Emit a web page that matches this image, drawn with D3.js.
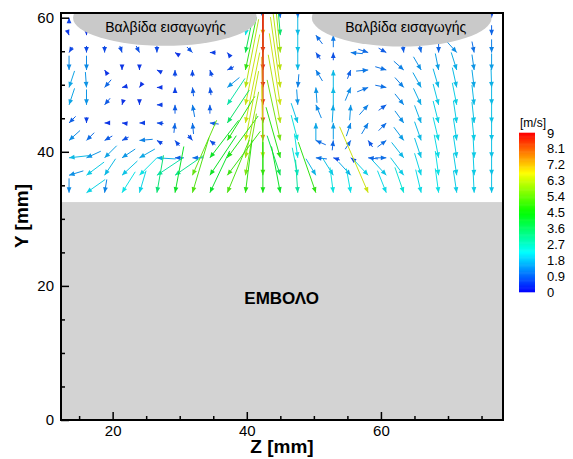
<html>
<body style="margin:0;background:#fff">
<script src="https://d3js.org/d3.v7.min.js"></script>
<svg width="573" height="459"></svg>
<script>
// grid of the PIV field (mm), rows listed top to bottom
var zGrid = [13.5, 16.1, 18.8, 21.4, 24.0, 26.6, 29.3, 31.9, 34.5, 37.1, 39.8, 42.4, 45.0,
             47.6, 50.3, 52.9, 55.5, 58.1, 60.8, 63.4, 66.0, 68.6, 71.3, 73.9, 76.5];
var yGrid = [60.0, 57.4, 54.8, 52.2, 49.6, 47.0, 44.3, 41.7, 39.1, 36.5, 33.9];

// horizontal velocity U (m/s), null = hidden under the valves
var uRows = [
  [0, null, null, null, null, null, null, null, null, null, null, 0.1, 0.1, 0, null, null, null, null, null, null, null, null, null, null, 0],
  [0.15, 0, null, null, null, null, null, null, null, null, -0.4, 0, 0.3, 0, -0.6, 0, null, null, null, null, null, null, null, null, 0],
  [-0.3, 0, 0, 0.2, 0.3, 0, -0.3, 0.5, -0.5, -0.3, -0.8, 0, 0.6, 0, -0.4, 0, -1.1, 0.9, 0.7, 0.1, 0.2, 0, 0.9, 0.2, 0],
  [0, 0, -0.2, 0, 0, -0.4, 0, 0, -0.2, -0.6, -1.0, 0, 0.8, 0, -0.6, 0, 0.3, 1.1, 1.0, 0.9, 0.7, 0.3, 0.5, 0.2, 0],
  [-0.5, 0.1, -0.6, -0.4, -0.2, -0.4, 0, -0.1, -0.1, -1.1, -1.2, 0, 0.9, -0.1, -0.1, 0, 0.5, 1.0, 1.0, 0.8, 0.75, 0.5, 0.4, 0.2, 0.05],
  [-0.5, 0, -0.5, -0.1, 0, -0.5, 0, -0.2, 0, -1.6, -1.3, 0, 1.0, 0.1, -0.5, 0.1, 0.1, 0.8, 0.7, 0.8, 0.7, 0.5, 0.4, 0.2, 0],
  [-0.6, 0, -0.4, -0.4, -0.5, -0.6, 0.1, -0.1, -0.8, -2.0, -1.3, 0, 1.1, 0.6, 0, 0, 0.4, 0.6, 0.7, 0.8, 0.6, 0.5, 0.3, 0.2, 0],
  [-1.0, -0.7, -0.7, -0.6, -1.2, -0.5, -0.4, 0.4, -0.5, -2.5, -1.2, 0.1, 1.2, 0.6, -0.9, 0.1, 0.5, -0.4, 0.8, 0.9, 0.6, 0.5, 0.3, 0.2, 0],
  [-1.8, -1.3, -1.1, -1.2, -1.4, -1.7, -0.8, -1.0, -2.6, -2.8, -1.2, 0.1, 1.3, 0.3, -1.0, -0.6, -0.4, -0.9, 1.0, 1.1, 0.6, 0.4, 0.3, 0.1, 0],
  [-1.3, -1.6, -1.0, -1.4, -1.6, -2.4, -2.6, -2.2, -2.4, -3.0, -1.0, 0, 1.2, 0.5, 0.9, 1.0, 1.1, 1.4, 1.3, 1.2, 0.6, 0.3, 0.3, 0.1, 0],
  [0, -1.7, -0.2, -1.2, -0.6, -0.6, -0.8, -1.5, -1.8, -2.0, -0.6, 0, 0.8, 0.2, 1.6, 0.3, 0.4, 2.6, 0.8, 0.8, 0.5, 0.3, 0.3, 0.1, 0]
];

// vertical velocity V (m/s), positive upwards
var vRows = [
  [0.5, null, null, null, null, null, null, null, null, null, null, -1.0, -0.9, -0.9, null, null, null, null, null, null, null, null, null, null, -0.6],
  [-0.4, -0.35, null, null, null, null, null, null, null, null, -2.2, -7.2, -3.5, -1.8, 0.8, 1.1, null, null, null, null, null, null, null, null, -0.9],
  [-0.5, -0.6, -0.6, -0.6, -0.6, -0.6, 0.2, -0.5, 0, 0.4, -3.8, -8.6, -6.0, -1.9, 0.6, 0.7, 0.1, -0.3, -0.4, -0.8, -0.9, -0.9, -1.0, -1.0, -1.2],
  [-1.3, -1.3, 0.3, -0.4, -0.4, 0.2, 0.6, 0.6, 0.6, -0.3, -4.8, -8.8, -6.3, -1.8, 1.0, 1.8, 0.8, 0.1, -0.3, -0.8, -1.2, -1.5, -1.6, -1.4, -1.5],
  [-1.5, -1.4, -0.7, -0.1, -0.3, 0, 0.5, 0.8, 0.7, -0.9, -6.2, -8.7, -6.4, -1.2, 1.4, 1.8, 1.2, 0.4, -0.2, -0.9, -1.35, -1.7, -1.8, -1.6, -1.7],
  [-1.5, -1.4, -0.6, -0.35, -0.4, 0, 0.8, 1.1, 0.8, -2.4, -6.4, -8.6, -6.5, -1.4, 1.2, 1.6, 1.4, 0.9, 0.5, -1.0, -1.5, -1.9, -2.0, -1.8, -1.8],
  [-0.6, -0.5, 0, 0.05, 0, 0.05, 0.9, 1.0, 0.1, -3.0, -6.4, -8.3, -6.2, -1.8, 1.6, 1.5, 1.2, 1.0, 0.7, -1.1, -1.6, -2.0, -2.0, -1.9, -1.9],
  [-0.9, -0.7, -0.4, -0.3, -0.1, 0.3, 0.5, -0.5, 0.4, -4.0, -6.3, -7.6, -5.5, -2.3, 0.4, 0.9, 0.8, 0.6, 0.6, -1.2, -1.7, -2.1, -2.0, -2.0, -1.9],
  [-0.2, -0.6, -1.1, -0.8, -0.8, 0.1, 0, 0, -3.4, -3.8, -6.0, -6.6, -4.6, -2.2, 0.1, 0.2, 0.3, 0.1, 0, -1.4, -1.8, -2.1, -2.0, -2.0, -1.9],
  [-0.4, -1.2, -1.5, -1.3, -1.6, -1.6, -1.8, -5.0, -3.6, -4.0, -5.6, -5.2, -3.6, -2.5, -1.5, -1.6, -1.2, -1.5, -1.4, -1.6, -2.0, -2.2, -2.0, -2.0, -1.9],
  [-1.3, -1.2, -1.2, -1.9, -2.0, -3.4, -4.2, -5.0, -3.8, -4.8, -4.8, -4.6, -4.2, -3.0, -4.6, -2.3, -2.2, -6.0, -2.0, -2.3, -2.1, -2.2, -2.0, -2.0, -1.9]
];

var zTicks = [20, 40, 60];
var zMinor = [15, 25, 30, 35, 45, 50, 55, 65, 70, 75];
var yTicks = [0, 20, 40, 60];
var yMinor = [5, 10, 15, 25, 30, 35, 45, 50, 55];
var cbTicks = [0, 0.9, 1.8, 2.7, 3.6, 4.5, 5.4, 6.3, 7.2, 8.1, 9];
var pistonTop = 32.5;   // mm
var valveLabel = "Βαλβίδα εισαγωγής";

var svg = d3.select("svg");
var font = "'Liberation Sans', Arial, sans-serif";

var x = d3.scaleLinear().domain([12.3, 78.2]).range([61, 503]);
var y = d3.scaleLinear().domain([0, 60.7]).range([420, 13]);
var color = d3.scaleLinear()
    .domain([0, 2.25, 4.5, 6.75, 9])
    .range(["#0000ff", "#00ffff", "#00ff00", "#ffff00", "#ff0000"])
    .clamp(true);
// arrows look a little duller than the legend
function arrowColor(m) { return d3.interpolateRgb(color(m), "#506070")(0.18); }
var pxPerMs = 11;

svg.append("defs").append("clipPath").attr("id", "plot")
    .append("rect")
    .attr("x", x(12.3)).attr("y", y(60.7))
    .attr("width", x(78.2) - x(12.3)).attr("height", y(0) - y(60.7));

var plot = svg.append("g").attr("clip-path", "url(#plot)");

// piston
plot.append("rect")
    .attr("x", x(12.3)).attr("y", y(pistonTop))
    .attr("width", x(78.2) - x(12.3)).attr("height", y(0) - y(pistonTop))
    .style("fill", "#d3d3d3");

// flatten the vector field
var vecs = [];
yGrid.forEach(function(yy, r) {
    zGrid.forEach(function(zz, k) {
        var u = uRows[r][k], v = vRows[r][k];
        if (u === null || v === null) return;
        vecs.push({z: zz, y: yy, u: u, v: v, m: Math.sqrt(u * u + v * v)});
    });
});

var arrows = plot.selectAll(".vec").data(vecs).enter().append("g").attr("class", "vec");

arrows.append("line")
    .attr("x1", function(d) { return x(d.z) - d.u * pxPerMs; })
    .attr("y1", function(d) { return y(d.y) + d.v * pxPerMs; })
    .attr("x2", function(d) { return x(d.z); })
    .attr("y2", function(d) { return y(d.y); })
    .style("stroke", function(d) { return arrowColor(d.m); })
    .style("stroke-width", 1);

arrows.append("path")
    .attr("d", function(d) {
        var tx = x(d.z), ty = y(d.y);
        var len = d.m * pxPerMs;
        var dx = d.u * pxPerMs / len, dy = -d.v * pxPerMs / len;
        var hl = 5.5, hw = 2.4;
        var bx = tx - dx * hl, by = ty - dy * hl;
        return "M" + tx + "," + ty +
            "L" + (bx - dy * hw) + "," + (by + dx * hw) +
            "L" + (bx + dy * hw) + "," + (by - dx * hw) + "Z";
    })
    .style("fill", function(d) { return arrowColor(d.m); });

// intake valves
var valves = [{cz: 27.8, cy: 60.0, rz: 13.7, ry: 4.2, tz: 27.9}, {cz: 63.1, cy: 60.0, rz: 13.4, ry: 4.3, tz: 63.7}];
plot.selectAll(".valve").data(valves).enter().append("ellipse")
    .attr("cx", function(d) { return x(d.cz); })
    .attr("cy", function(d) { return y(d.cy); })
    .attr("rx", function(d) { return x(d.cz + d.rz) - x(d.cz); })
    .attr("ry", function(d) { return y(d.cy - d.ry) - y(d.cy); })
    .style("fill", "#c9c9c9");

svg.selectAll(".vtext").data(valves).enter().append("text")
    .attr("x", function(d) { return x(d.tz); })
    .attr("y", 32)
    .attr("text-anchor", "middle")
    .style("font-family", font).style("font-size", "14px")
    .text(valveLabel);

svg.append("text")
    .attr("x", x(45.2)).attr("y", 304)
    .attr("text-anchor", "middle")
    .style("font-family", font).style("font-size", "17px").style("font-weight", "bold")
    .text("ΕΜΒΟΛΟ");

// axes
function styleAxis(g) {
    g.select(".domain").remove();
    g.selectAll(".tick line").style("stroke", "#000").style("stroke-width", 1.5);
    g.selectAll("text").style("font-family", font).style("font-size", "15px").style("fill", "#000");
}
svg.append("g").attr("transform", "translate(0,420)")
    .call(d3.axisBottom(x).tickValues(zTicks).tickSize(-8).tickPadding(5).tickFormat(d3.format("d")))
    .call(styleAxis);
svg.append("g").attr("transform", "translate(0,420)")
    .call(d3.axisBottom(x).tickValues(zMinor).tickSize(-4).tickFormat(""))
    .call(styleAxis);
svg.append("g").attr("transform", "translate(61,0)")
    .call(d3.axisLeft(y).tickValues(yTicks).tickSize(-8).tickPadding(7).tickFormat(d3.format("d")))
    .call(styleAxis);
svg.append("g").attr("transform", "translate(61,0)")
    .call(d3.axisLeft(y).tickValues(yMinor).tickSize(-4).tickFormat(""))
    .call(styleAxis);

// frame
svg.append("rect")
    .attr("x", x(12.3)).attr("y", y(60.7))
    .attr("width", x(78.2) - x(12.3)).attr("height", y(0) - y(60.7))
    .style("fill", "none").style("stroke", "#000").style("stroke-width", 2);

svg.append("text")
    .attr("x", 282).attr("y", 453)
    .attr("text-anchor", "middle")
    .style("font-family", font).style("font-size", "19px").style("font-weight", "bold")
    .text("Z [mm]");
svg.append("text")
    .attr("transform", "translate(28,216) rotate(-90)")
    .attr("text-anchor", "middle")
    .style("font-family", font).style("font-size", "19px").style("font-weight", "bold")
    .text("Y [mm]");

// colour bar
var cb = d3.scaleLinear().domain([0, 9]).range([292, 133]);
svg.selectAll(".cbr").data(d3.range(0, 9, 0.05)).enter().append("rect")
    .attr("x", 519).attr("width", 16)
    .attr("y", function(d) { return cb(d + 0.05) - 0.3; })
    .attr("height", function(d) { return cb(d) - cb(d + 0.05) + 0.6; })
    .style("fill", function(d) { return color(d + 0.025); });
svg.selectAll(".cbt").data(cbTicks).enter().append("text")
    .attr("x", 547).attr("y", function(d) { return cb(d); })
    .attr("dy", "0.35em")
    .style("font-family", font).style("font-size", "13px")
    .text(function(d) { return d; });
svg.append("text")
    .attr("x", 533).attr("y", 127).attr("text-anchor", "middle")
    .style("font-family", font).style("font-size", "12px")
    .text("[m/s]");
</script>
</body>
</html>
